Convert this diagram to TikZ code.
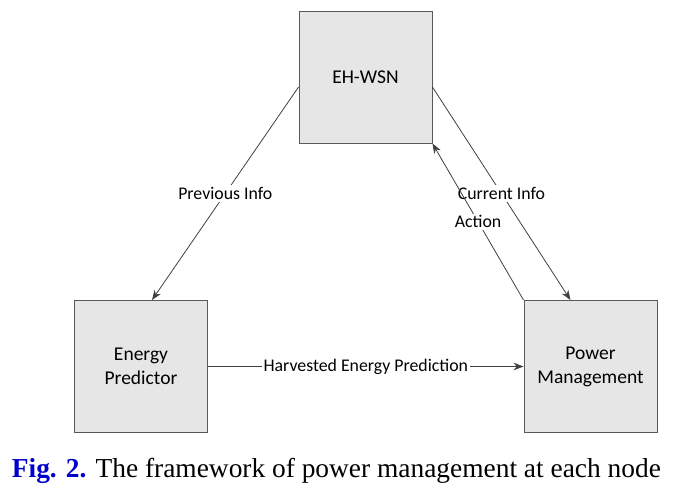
\documentclass[tikz,border=0pt]{standalone}
\usepackage{fontspec}
\setmainfont{Liberation Serif}
\newfontfamily\diagfont{Carlito}
\usepackage{xcolor}
\usetikzlibrary{arrows.meta,positioning,calc}
\definecolor{boxfill}{HTML}{E6E6E6}
\definecolor{boxedge}{HTML}{595959}
\definecolor{wire}  {HTML}{404040}
\definecolor{figblue}{HTML}{0000CC}

\tikzset{
  block/.style={draw=boxedge,fill=boxfill,line width=0.9pt,
                minimum width=133pt,minimum height=132pt,inner sep=0pt,
                align=center,font=\diagfont\fontsize{19.5}{24}\selectfont},
  link/.style={draw=wire,line width=0.8pt,-{Stealth[length=10pt,width=7.5pt]}},
  lbl/.style={fill=white,inner sep=2pt,font=\diagfont\fontsize{17.8}{21}\selectfont}
}

\begin{document}
\begin{tikzpicture}[x=1pt,y=-1pt]
  \useasboundingbox (0,0) rectangle (681,488);
  % three blocks of the framework
  \node[block] (wsn)  at (365.5,77)  {EH-WSN};
  \node[block] (pred) at (141,366.5) {Energy\\Predictor};
  \node[block] (pm)   at (590.5,366.5) {Power\\Management};
  % information flow
  \draw[link] ($(wsn.west)+(0,10)$) -- node[lbl]{Previous Info} ($(pred.north)+(11,0)$);
  \draw[link] ($(wsn.east)+(0,10)$) -- node[lbl]{Current Info} ($(pm.north)+(-20,0)$);
  \draw[link] (pm.north west) -- node[lbl]{Action} (wsn.south east);
  \draw[link] (pred) -- node[lbl]{Harvested Energy Prediction} (pm);
  % caption
  \node[anchor=base west,inner sep=0pt,font=\fontsize{27.4}{30}\selectfont] (cap) at (11.7,477)
    {\textcolor{figblue}{\bfseries Fig. 2.} The framework of power management at each node};
\end{tikzpicture}
\end{document}
